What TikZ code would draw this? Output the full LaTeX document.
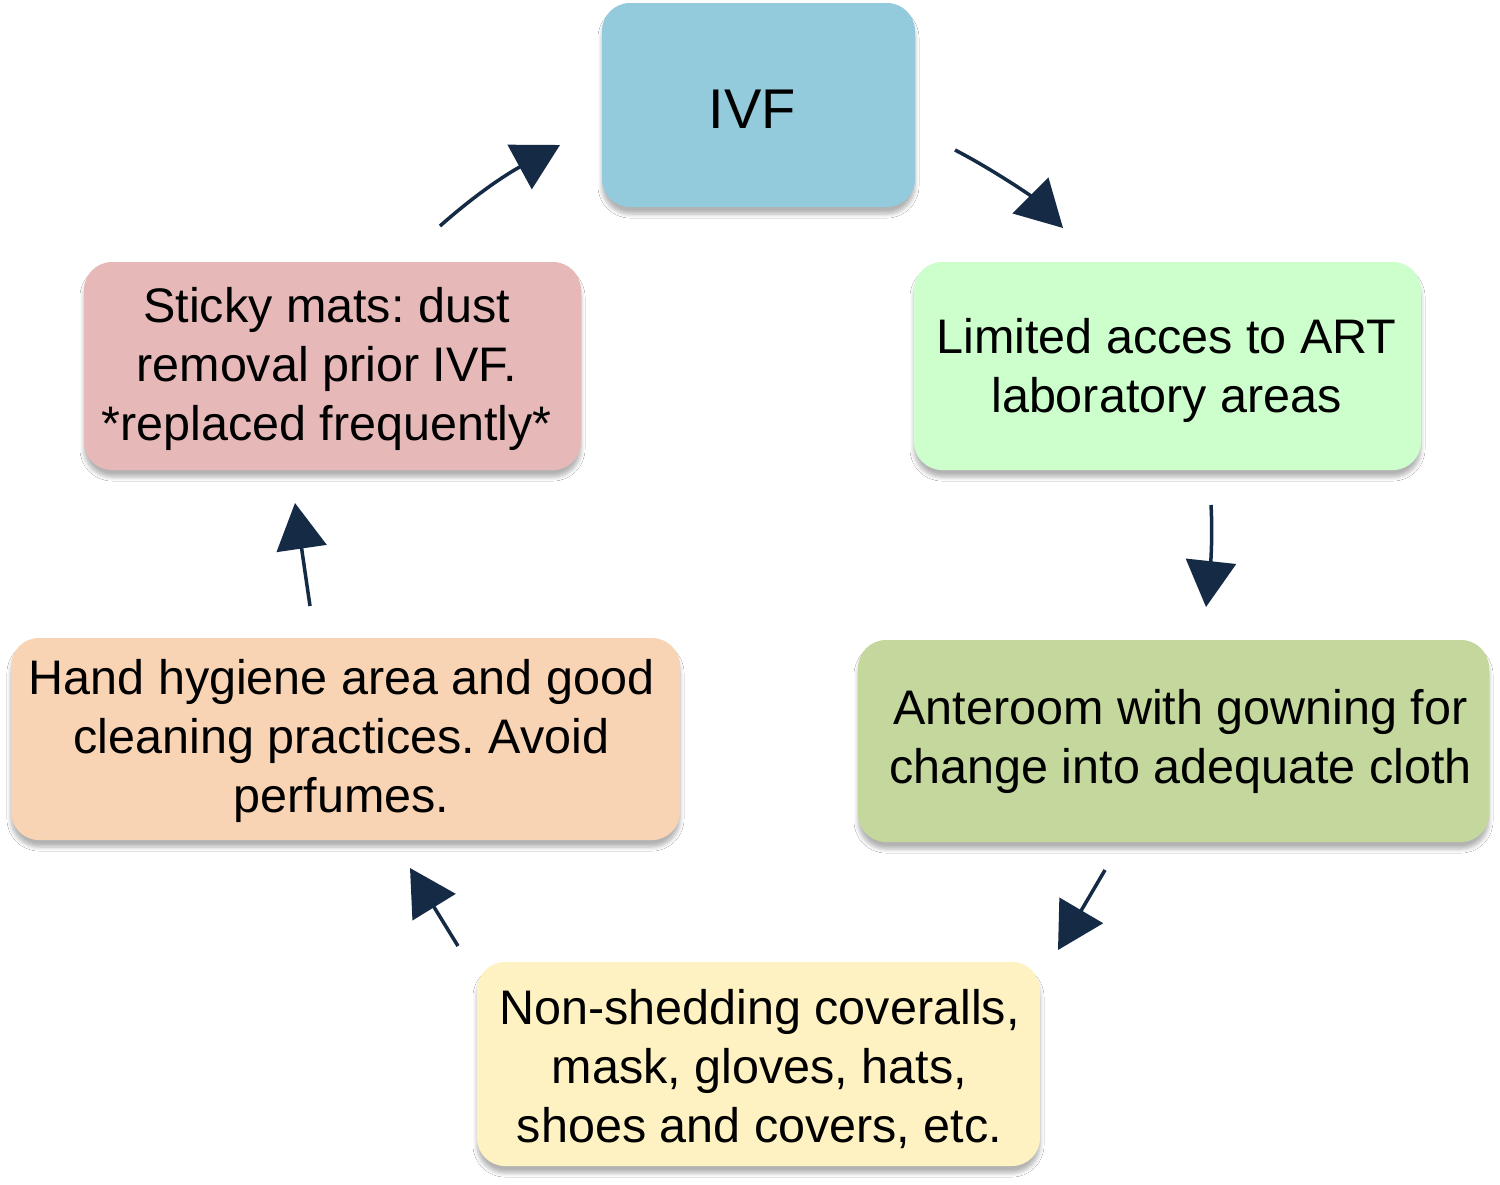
\documentclass[tikz,border=0pt]{standalone}
\usepackage{fontspec}
\setmainfont{Liberation Sans}
\usetikzlibrary{arrows.meta,shadows.blur}
\definecolor{cIVF}{HTML}{93CADC}
\definecolor{cLim}{HTML}{CCFFCC}
\definecolor{cAnte}{HTML}{C4D79D}
\definecolor{cNon}{HTML}{FFF2C2}
\definecolor{cHand}{HTML}{F9D4B4}
\definecolor{cStick}{HTML}{E6B9B8}
\definecolor{navy}{HTML}{142A45}
\begin{document}
\frenchspacing
\begin{tikzpicture}[x=1pt,y=-1pt,
  box/.style={rounded corners=28pt, draw=none, inner sep=0pt,
    blur shadow={shadow xshift=0pt, shadow yshift=-7pt, shadow blur steps=6, shadow opacity=30, shadow blur radius=4pt}},
  txt/.style={align=center, inner sep=0pt, font=\fontsize{48.5}{59}\selectfont},
  conn/.style={line width=3.5pt, draw=navy, -{Triangle[length=46pt,width=50pt,fill=navy]}}]
\path[use as bounding box, fill=white] (0,0) rectangle (1500,1184);
% boxes
\node[box, fill=cIVF, minimum width=313pt, minimum height=204pt] (ivf) at (758.5,105) {};
\node[box, fill=cLim, minimum width=507pt, minimum height=208pt] (lim) at (1167.5,366) {};
\node[box, fill=cAnte, minimum width=631pt, minimum height=202pt] (ante) at (1173.5,741) {};
\node[box, fill=cNon, minimum width=563pt, minimum height=204pt] (non) at (758.5,1064) {};
\node[box, fill=cHand, minimum width=669pt, minimum height=202pt] (hand) at (345.5,739) {};
\node[box, fill=cStick, minimum width=497pt, minimum height=208pt] (stick) at (332.5,366) {};
% texts
\node[txt, font=\fontsize{56}{60}\selectfont] (ivft) at ([shift={(-6,4)}]ivf.center) {IVF};
\node[txt] (limt) at ([shift={(-1,4)}]lim.center) {Limited acces to ART\\laboratory areas};
\node[txt] (antet) at ([shift={(7,0)}]ante.center) {Anteroom with gowning for\\change into adequate cloth};
\node[txt] (nont) at ([shift={(1,5)}]non.center) {Non-shedding coveralls,\\mask, gloves, hats,\\shoes and covers, etc.};
\node[txt] (handt) at ([shift={(-4,2)}]hand.center) {Hand hygiene area and good\\cleaning practices. Avoid\\perfumes.};
\node[txt] (stickt) at ([shift={(-6,3)}]stick.center) {Sticky mats: dust\\removal prior IVF.\\*replaced frequently*};
% connector end points
\coordinate (a1s) at (440,226); \coordinate (a1e) at (560,145);
\coordinate (a2s) at (955,150); \coordinate (a2e) at (1063,228);
\coordinate (a3s) at (1211,505); \coordinate (a3e) at (1206,607);
\coordinate (a4s) at (1105,870); \coordinate (a4e) at (1058,950);
\coordinate (a5s) at (458,946); \coordinate (a5e) at (410,868);
\coordinate (a6s) at (310,606); \coordinate (a6e) at (295,503);
\draw[conn] (a1s) .. controls (475,195) and (505,175) .. (a1e);
\draw[conn] (a2s) .. controls (990,168) and (1030,195) .. (a2e);
\draw[conn] (a3s) .. controls (1213,540) and (1210,570) .. (a3e);
\draw[conn] (a4s) -- (a4e);
\draw[conn] (a5s) -- (a5e);
\draw[conn] (a6s) -- (a6e);
\end{tikzpicture}
\end{document}
